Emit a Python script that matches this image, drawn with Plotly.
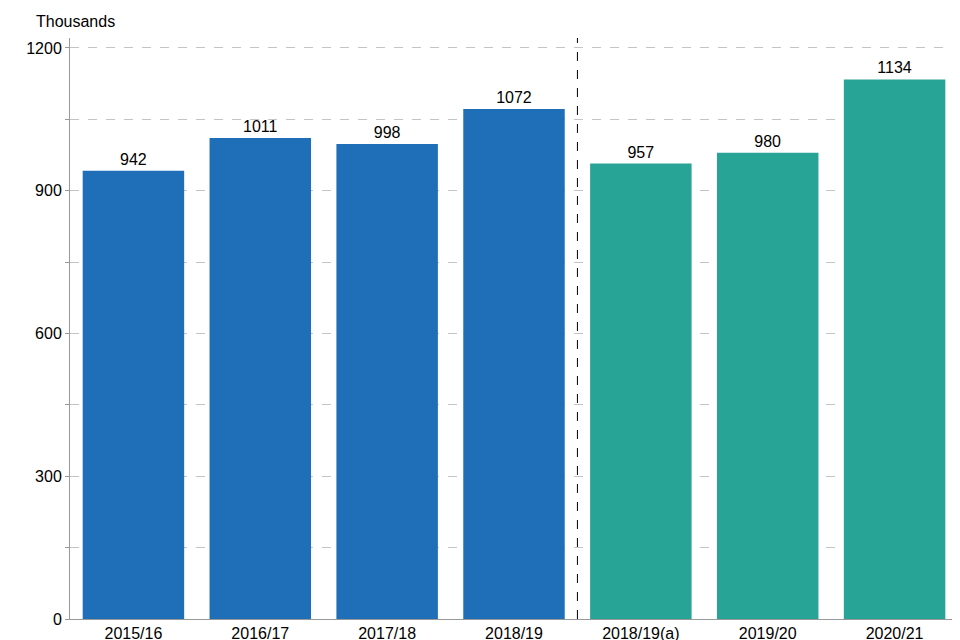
import plotly.graph_objects as go

categories = ["2015/16", "2016/17", "2017/18", "2018/19", "2018/19(a)", "2019/20", "2020/21"]
values = [942, 1011, 998, 1072, 957, 980, 1134]
colors = ["#1f6fb8"] * 4 + ["#28a496"] * 3
tick_vals = [0, 150, 300, 450, 600, 750, 900, 1050, 1200]
tick_text = ["0", "", "300", "", "600", "", "900", "", "1200"]

fig = go.Figure(go.Bar(
    x=categories, y=values, marker_color=colors, marker_line_width=0,
    text=[str(v) for v in values], textposition="outside",
    textfont=dict(size=16, color="black"), cliponaxis=False,
))
fig.add_shape(type="line", xref="x", yref="paper", x0=3.5, x1=3.5, y0=0, y1=1,
              line=dict(color="black", width=1, dash="dash"))
fig.add_annotation(text="Thousands", xref="paper", yref="paper", x=-0.041, y=1.0,
                   xanchor="left", yanchor="bottom", showarrow=False, yshift=6,
                   font=dict(size=16, color="black"))
fig.update_layout(
    width=960, height=640, plot_bgcolor="white", paper_bgcolor="white",
    margin=dict(l=62, r=10, t=30, b=29, autoexpand=False), bargap=0.2, showlegend=False,
    font=dict(family="Liberation Sans, Arial", size=16, color="black"),
    xaxis=dict(showline=True, linecolor="#999", ticks="", range=[-0.5, 6.5], automargin=False),
    yaxis=dict(range=[0, 1221], tickmode="array", tickvals=tick_vals, ticktext=tick_text,
               showgrid=True, gridcolor="#c4c4c4", griddash="dash", showline=True,
               linecolor="#999", ticks="outside", ticklen=4, tickcolor="#999",
               zeroline=False, automargin=False),
)
fig.write_html("out.html")
